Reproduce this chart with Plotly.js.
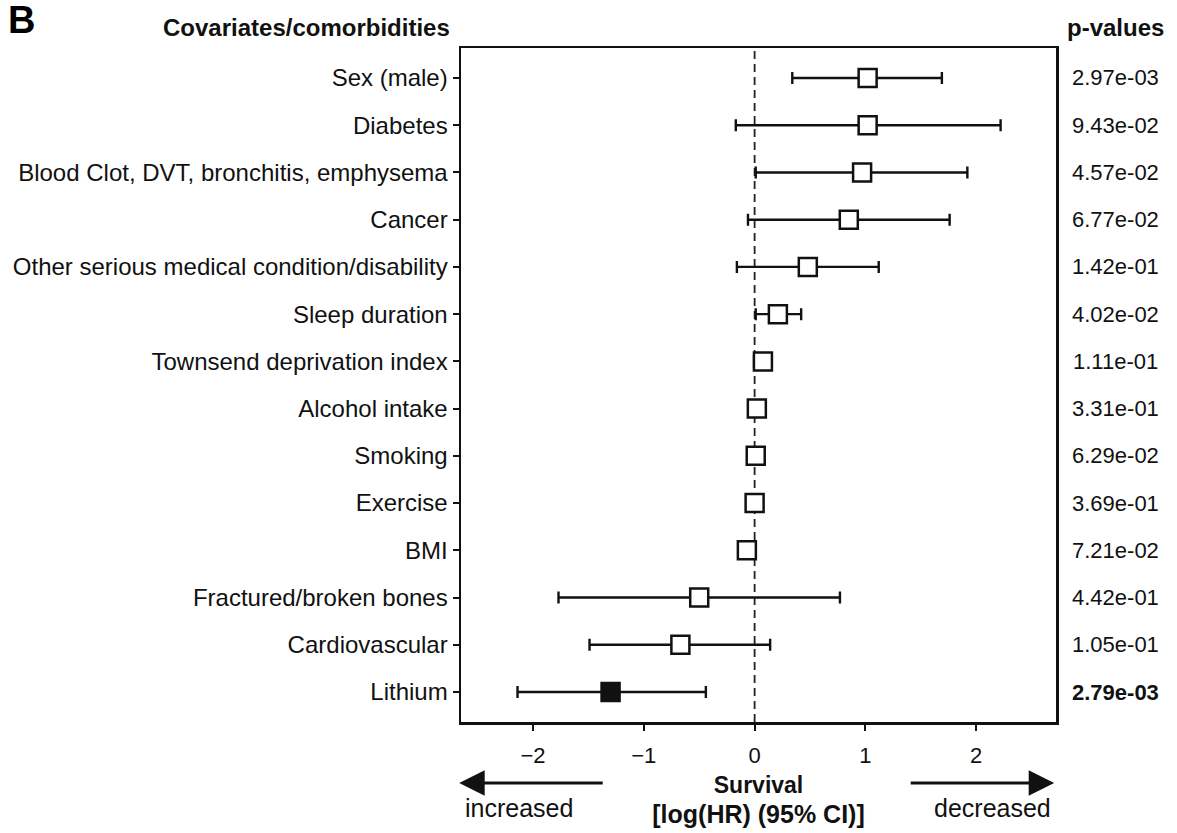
<!DOCTYPE html>
<html>
<head>
<meta charset="utf-8">
<script src="https://cdn.plot.ly/plotly-3.0.1.min.js"></script>
<style>html,body{margin:0;padding:0;background:#fff;}#chart{width:1177px;height:833px;}</style>
</head>
<body>
<div id="chart"></div>
<script>
// ---- data ----
const covariates = [
  "Sex (male)", "Diabetes", "Blood Clot, DVT, bronchitis, emphysema", "Cancer",
  "Other serious medical condition/disability", "Sleep duration",
  "Townsend deprivation index", "Alcohol intake", "Smoking", "Exercise", "BMI",
  "Fractured/broken bones", "Cardiovascular", "Lithium"
];
const logHR   = [1.02, 1.02, 0.97, 0.85, 0.48, 0.21, 0.075, 0.02, 0.01, 0.0, -0.07, -0.50, -0.67, -1.30];
const ciLow   = [0.34, -0.17, 0.01, -0.06, -0.16, 0.01, -0.005, -0.01, -0.01, -0.02, -0.09, -1.77, -1.49, -2.14];
const ciHigh  = [1.69, 2.22, 1.92, 1.76, 1.12, 0.42, 0.15, 0.05, 0.03, 0.02, -0.05, 0.77, 0.14, -0.44];
const pValues = ["2.97e-03", "9.43e-02", "4.57e-02", "6.77e-02", "1.42e-01", "4.02e-02",
  "1.11e-01", "3.31e-01", "6.29e-02", "3.69e-01", "7.21e-02", "4.42e-01", "1.05e-01", "2.79e-03"];
const significant = [false, false, false, false, false, false, false, false, false, false, false, false, false, true];
const xTicks = [-2, -1, 0, 1, 2];

// ---- build ----
const FONT = "Liberation Sans, Arial, Helvetica, sans-serif";
const trace = {
  type: "scatter",
  mode: "markers",
  x: logHR,
  y: covariates,
  marker: {
    symbol: "square",
    size: 18,
    color: significant.map(s => s ? "#111" : "#fff"),
    line: {color: "#111", width: 2.5}
  },
  error_x: {
    type: "data",
    symmetric: false,
    array: ciHigh.map((h, i) => h - logHR[i]),
    arrayminus: ciLow.map((l, i) => logHR[i] - l),
    color: "#111",
    thickness: 2.4,
    width: 6
  },
  hoverinfo: "x+y",
  showlegend: false
};

const annotations = [];
covariates.forEach((c, i) => {
  annotations.push({
    xref: "paper", yref: "y", x: 1.1, y: c,
    text: significant[i] ? "<b>" + pValues[i] + "</b>" : pValues[i],
    showarrow: false, xanchor: "center", yanchor: "middle",
    font: {family: FONT, size: 22, color: "#111"}
  });
});
annotations.push(
  {xref: "paper", yref: "paper", x: 1.1, y: 1.031, text: "<b>p-values</b>", showarrow: false,
   xanchor: "center", yanchor: "middle", font: {family: FONT, size: 24, color: "#111"}},
  {xref: "paper", yref: "paper", x: -0.26, y: 1.031, text: "<b>Covariates/comorbidities</b>", showarrow: false,
   xanchor: "center", yanchor: "middle", font: {family: FONT, size: 24, color: "#111"}},
  {xref: "paper", yref: "paper", x: -0.765, y: 1.042, text: "<b>B</b>", showarrow: false,
   xanchor: "left", yanchor: "middle", font: {family: FONT, size: 38, color: "#000"}},
  // direction arrows
  {xref: "paper", yref: "paper", x: -0.003, y: -0.0905, ax: 145, ay: 0, text: "", showarrow: true,
   arrowhead: 2, arrowsize: 1.7, arrowwidth: 3, arrowcolor: "#111"},
  {xref: "paper", yref: "paper", x: 0.997, y: -0.0905, ax: -145, ay: 0, text: "", showarrow: true,
   arrowhead: 2, arrowsize: 1.7, arrowwidth: 3, arrowcolor: "#111"},
  {xref: "paper", yref: "paper", x: 0.097, y: -0.128, text: "increased", showarrow: false,
   xanchor: "center", yanchor: "middle", font: {family: FONT, size: 25, color: "#111"}},
  {xref: "paper", yref: "paper", x: 0.893, y: -0.128, text: "decreased", showarrow: false,
   xanchor: "center", yanchor: "middle", font: {family: FONT, size: 25, color: "#111"}}
);

const layout = {
  width: 1177, height: 833,
  paper_bgcolor: "#fff", plot_bgcolor: "#fff",
  margin: {l: 461, r: 121, t: 48, b: 111},
  font: {family: FONT, color: "#111"},
  xaxis: {
    range: [-2.65, 2.72],
    tickvals: xTicks,
    ticks: "outside", ticklen: 6, tickwidth: 2, tickcolor: "#111",
    ticklabelstandoff: 6,
    showline: true, mirror: true, linewidth: 2.5, linecolor: "#111",
    showgrid: false, zeroline: false,
    tickfont: {family: FONT, size: 22, color: "#111"},
    title: {text: "<b>Survival</b><br><b><span style='font-size:25px'>[log(HR) (95% CI)]</span></b>", standoff: 10,
            font: {family: FONT, size: 23, color: "#111"}},
    automargin: false
  },
  yaxis: {
    type: "category",
    categoryorder: "array", categoryarray: covariates,
    range: [13.635, -0.635],
    ticks: "outside", ticklen: 6, tickwidth: 2, tickcolor: "#111",
    showline: true, mirror: true, linewidth: 2.5, linecolor: "#111",
    showgrid: false, zeroline: false,
    tickfont: {family: FONT, size: 24, color: "#111"},
    automargin: false
  },
  shapes: [{
    type: "line", xref: "x", yref: "paper", x0: 0, x1: 0, y0: 0, y1: 1,
    line: {color: "#222", width: 1.8, dash: "8px,5px"}, layer: "below"
  }],
  annotations: annotations
};

Plotly.newPlot("chart", [trace], layout, {displayModeBar: false, staticPlot: true});
</script>
</body>
</html>
